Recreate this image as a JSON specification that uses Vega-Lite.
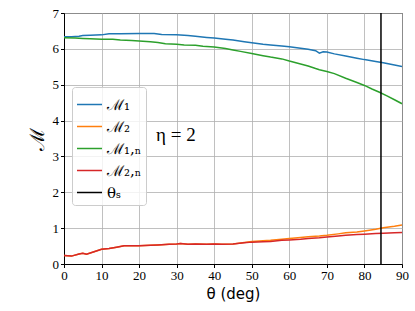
{
  "$schema": "https://vega.github.io/schema/vega-lite/v6.json",
  "width": 338,
  "height": 251,
  "autosize": {"type": "none"},
  "padding": {"left": 64, "top": 13, "right": 13, "bottom": 47},
  "background": "white",
  "config": {
    "view": {"stroke": "black", "strokeWidth": 1},
    "axis": {
      "labelFont": "Liberation Serif",
      "labelFontSize": 13,
      "labelColor": "black",
      "labelOverlap": false,
      "labelFlush": false,
      "tickColor": "black",
      "tickSize": 3.5,
      "domainColor": "black",
      "gridColor": "#b0b0b0",
      "gridWidth": 0.8,
      "titleColor": "black",
      "titleFontWeight": "normal"
    }
  },
  "datasets": {
    "lines": [
      {"s": "ℳ₁", "x": 0, "y": 6.34}, {"s": "ℳ₁", "x": 2, "y": 6.34}, {"s": "ℳ₁", "x": 4, "y": 6.35}, {"s": "ℳ₁", "x": 5, "y": 6.37}, {"s": "ℳ₁", "x": 7, "y": 6.38}, {"s": "ℳ₁", "x": 10, "y": 6.39}, {"s": "ℳ₁", "x": 12, "y": 6.42}, {"s": "ℳ₁", "x": 15, "y": 6.42}, {"s": "ℳ₁", "x": 20, "y": 6.43}, {"s": "ℳ₁", "x": 24, "y": 6.43}, {"s": "ℳ₁", "x": 26, "y": 6.40}, {"s": "ℳ₁", "x": 30, "y": 6.39}, {"s": "ℳ₁", "x": 33, "y": 6.37}, {"s": "ℳ₁", "x": 35, "y": 6.35}, {"s": "ℳ₁", "x": 38, "y": 6.32}, {"s": "ℳ₁", "x": 40, "y": 6.30}, {"s": "ℳ₁", "x": 43, "y": 6.27}, {"s": "ℳ₁", "x": 45, "y": 6.25}, {"s": "ℳ₁", "x": 48, "y": 6.20}, {"s": "ℳ₁", "x": 50, "y": 6.17}, {"s": "ℳ₁", "x": 53, "y": 6.13}, {"s": "ℳ₁", "x": 55, "y": 6.11}, {"s": "ℳ₁", "x": 58, "y": 6.08}, {"s": "ℳ₁", "x": 60, "y": 6.06}, {"s": "ℳ₁", "x": 63, "y": 6.02}, {"s": "ℳ₁", "x": 65, "y": 5.99}, {"s": "ℳ₁", "x": 67, "y": 5.95}, {"s": "ℳ₁", "x": 68, "y": 5.88}, {"s": "ℳ₁", "x": 69, "y": 5.92}, {"s": "ℳ₁", "x": 70, "y": 5.91}, {"s": "ℳ₁", "x": 72, "y": 5.86}, {"s": "ℳ₁", "x": 75, "y": 5.80}, {"s": "ℳ₁", "x": 78, "y": 5.74}, {"s": "ℳ₁", "x": 80, "y": 5.70}, {"s": "ℳ₁", "x": 83, "y": 5.65}, {"s": "ℳ₁", "x": 85, "y": 5.61}, {"s": "ℳ₁", "x": 88, "y": 5.55}, {"s": "ℳ₁", "x": 90, "y": 5.51},
      {"s": "ℳ₂", "x": 0, "y": 0.24}, {"s": "ℳ₂", "x": 2, "y": 0.22}, {"s": "ℳ₂", "x": 4, "y": 0.28}, {"s": "ℳ₂", "x": 5, "y": 0.30}, {"s": "ℳ₂", "x": 6, "y": 0.27}, {"s": "ℳ₂", "x": 8, "y": 0.34}, {"s": "ℳ₂", "x": 10, "y": 0.41}, {"s": "ℳ₂", "x": 12, "y": 0.43}, {"s": "ℳ₂", "x": 14, "y": 0.47}, {"s": "ℳ₂", "x": 16, "y": 0.51}, {"s": "ℳ₂", "x": 18, "y": 0.51}, {"s": "ℳ₂", "x": 20, "y": 0.51}, {"s": "ℳ₂", "x": 23, "y": 0.52}, {"s": "ℳ₂", "x": 25, "y": 0.53}, {"s": "ℳ₂", "x": 28, "y": 0.55}, {"s": "ℳ₂", "x": 30, "y": 0.56}, {"s": "ℳ₂", "x": 31, "y": 0.57}, {"s": "ℳ₂", "x": 33, "y": 0.55}, {"s": "ℳ₂", "x": 35, "y": 0.56}, {"s": "ℳ₂", "x": 38, "y": 0.55}, {"s": "ℳ₂", "x": 40, "y": 0.56}, {"s": "ℳ₂", "x": 42, "y": 0.55}, {"s": "ℳ₂", "x": 45, "y": 0.56}, {"s": "ℳ₂", "x": 48, "y": 0.60}, {"s": "ℳ₂", "x": 50, "y": 0.63}, {"s": "ℳ₂", "x": 53, "y": 0.65}, {"s": "ℳ₂", "x": 55, "y": 0.66}, {"s": "ℳ₂", "x": 58, "y": 0.69}, {"s": "ℳ₂", "x": 60, "y": 0.71}, {"s": "ℳ₂", "x": 63, "y": 0.74}, {"s": "ℳ₂", "x": 65, "y": 0.76}, {"s": "ℳ₂", "x": 68, "y": 0.78}, {"s": "ℳ₂", "x": 70, "y": 0.80}, {"s": "ℳ₂", "x": 73, "y": 0.84}, {"s": "ℳ₂", "x": 75, "y": 0.87}, {"s": "ℳ₂", "x": 78, "y": 0.89}, {"s": "ℳ₂", "x": 80, "y": 0.92}, {"s": "ℳ₂", "x": 83, "y": 0.97}, {"s": "ℳ₂", "x": 85, "y": 1.01}, {"s": "ℳ₂", "x": 88, "y": 1.05}, {"s": "ℳ₂", "x": 90, "y": 1.09},
      {"s": "ℳ₁,ₙ", "x": 0, "y": 6.31}, {"s": "ℳ₁,ₙ", "x": 3, "y": 6.30}, {"s": "ℳ₁,ₙ", "x": 5, "y": 6.29}, {"s": "ℳ₁,ₙ", "x": 7, "y": 6.28}, {"s": "ℳ₁,ₙ", "x": 10, "y": 6.27}, {"s": "ℳ₁,ₙ", "x": 13, "y": 6.27}, {"s": "ℳ₁,ₙ", "x": 15, "y": 6.25}, {"s": "ℳ₁,ₙ", "x": 18, "y": 6.23}, {"s": "ℳ₁,ₙ", "x": 20, "y": 6.22}, {"s": "ℳ₁,ₙ", "x": 23, "y": 6.20}, {"s": "ℳ₁,ₙ", "x": 25, "y": 6.18}, {"s": "ℳ₁,ₙ", "x": 27, "y": 6.14}, {"s": "ℳ₁,ₙ", "x": 30, "y": 6.13}, {"s": "ℳ₁,ₙ", "x": 32, "y": 6.11}, {"s": "ℳ₁,ₙ", "x": 35, "y": 6.10}, {"s": "ℳ₁,ₙ", "x": 37, "y": 6.07}, {"s": "ℳ₁,ₙ", "x": 40, "y": 6.05}, {"s": "ℳ₁,ₙ", "x": 43, "y": 6.01}, {"s": "ℳ₁,ₙ", "x": 45, "y": 5.97}, {"s": "ℳ₁,ₙ", "x": 47, "y": 5.93}, {"s": "ℳ₁,ₙ", "x": 50, "y": 5.87}, {"s": "ℳ₁,ₙ", "x": 53, "y": 5.81}, {"s": "ℳ₁,ₙ", "x": 55, "y": 5.77}, {"s": "ℳ₁,ₙ", "x": 58, "y": 5.72}, {"s": "ℳ₁,ₙ", "x": 60, "y": 5.66}, {"s": "ℳ₁,ₙ", "x": 63, "y": 5.58}, {"s": "ℳ₁,ₙ", "x": 65, "y": 5.52}, {"s": "ℳ₁,ₙ", "x": 67, "y": 5.45}, {"s": "ℳ₁,ₙ", "x": 68, "y": 5.42}, {"s": "ℳ₁,ₙ", "x": 70, "y": 5.37}, {"s": "ℳ₁,ₙ", "x": 72, "y": 5.31}, {"s": "ℳ₁,ₙ", "x": 75, "y": 5.18}, {"s": "ℳ₁,ₙ", "x": 78, "y": 5.06}, {"s": "ℳ₁,ₙ", "x": 80, "y": 4.98}, {"s": "ℳ₁,ₙ", "x": 82, "y": 4.88}, {"s": "ℳ₁,ₙ", "x": 84, "y": 4.79}, {"s": "ℳ₁,ₙ", "x": 86, "y": 4.69}, {"s": "ℳ₁,ₙ", "x": 88, "y": 4.58}, {"s": "ℳ₁,ₙ", "x": 90, "y": 4.47},
      {"s": "ℳ₂,ₙ", "x": 0, "y": 0.24}, {"s": "ℳ₂,ₙ", "x": 2, "y": 0.22}, {"s": "ℳ₂,ₙ", "x": 4, "y": 0.28}, {"s": "ℳ₂,ₙ", "x": 5, "y": 0.30}, {"s": "ℳ₂,ₙ", "x": 6, "y": 0.27}, {"s": "ℳ₂,ₙ", "x": 8, "y": 0.34}, {"s": "ℳ₂,ₙ", "x": 10, "y": 0.41}, {"s": "ℳ₂,ₙ", "x": 12, "y": 0.43}, {"s": "ℳ₂,ₙ", "x": 14, "y": 0.47}, {"s": "ℳ₂,ₙ", "x": 16, "y": 0.51}, {"s": "ℳ₂,ₙ", "x": 18, "y": 0.51}, {"s": "ℳ₂,ₙ", "x": 20, "y": 0.51}, {"s": "ℳ₂,ₙ", "x": 23, "y": 0.52}, {"s": "ℳ₂,ₙ", "x": 25, "y": 0.53}, {"s": "ℳ₂,ₙ", "x": 28, "y": 0.55}, {"s": "ℳ₂,ₙ", "x": 30, "y": 0.56}, {"s": "ℳ₂,ₙ", "x": 31, "y": 0.57}, {"s": "ℳ₂,ₙ", "x": 33, "y": 0.55}, {"s": "ℳ₂,ₙ", "x": 35, "y": 0.56}, {"s": "ℳ₂,ₙ", "x": 38, "y": 0.55}, {"s": "ℳ₂,ₙ", "x": 40, "y": 0.56}, {"s": "ℳ₂,ₙ", "x": 42, "y": 0.55}, {"s": "ℳ₂,ₙ", "x": 45, "y": 0.56}, {"s": "ℳ₂,ₙ", "x": 48, "y": 0.59}, {"s": "ℳ₂,ₙ", "x": 50, "y": 0.61}, {"s": "ℳ₂,ₙ", "x": 53, "y": 0.62}, {"s": "ℳ₂,ₙ", "x": 55, "y": 0.63}, {"s": "ℳ₂,ₙ", "x": 58, "y": 0.66}, {"s": "ℳ₂,ₙ", "x": 60, "y": 0.67}, {"s": "ℳ₂,ₙ", "x": 63, "y": 0.69}, {"s": "ℳ₂,ₙ", "x": 65, "y": 0.71}, {"s": "ℳ₂,ₙ", "x": 68, "y": 0.73}, {"s": "ℳ₂,ₙ", "x": 70, "y": 0.75}, {"s": "ℳ₂,ₙ", "x": 73, "y": 0.78}, {"s": "ℳ₂,ₙ", "x": 75, "y": 0.80}, {"s": "ℳ₂,ₙ", "x": 78, "y": 0.82}, {"s": "ℳ₂,ₙ", "x": 80, "y": 0.83}, {"s": "ℳ₂,ₙ", "x": 83, "y": 0.85}, {"s": "ℳ₂,ₙ", "x": 85, "y": 0.86}, {"s": "ℳ₂,ₙ", "x": 88, "y": 0.87}, {"s": "ℳ₂,ₙ", "x": 90, "y": 0.88},
      {"s": "θₛ", "x": 84.4, "y": 0}, {"s": "θₛ", "x": 84.4, "y": 7}
    ],
    "note": [{"x": 24.5, "y": 3.6, "t": "η = 2"}]
  },
  "encoding": {
    "x": {
      "field": "x", "type": "quantitative",
      "scale": {"domain": [0, 90], "nice": false, "zero": false},
      "axis": {"values": [0, 10, 20, 30, 40, 50, 60, 70, 80, 90], "tickCount": 10, "title": "θ (deg)", "titleFont": "DejaVu Sans", "titleFontSize": 15, "titlePadding": 4}
    },
    "y": {
      "field": "y", "type": "quantitative",
      "scale": {"domain": [0, 7], "nice": false},
      "axis": {"values": [0, 1, 2, 3, 4, 5, 6, 7], "tickCount": 8, "title": "ℳ", "titleFont": "DejaVu Serif", "titleFontSize": 20, "titlePadding": 5}
    }
  },
  "layer": [
    {
      "data": {"name": "lines"},
      "mark": {"type": "line", "strokeWidth": 1.5, "clip": true},
      "encoding": {
        "color": {
          "field": "s", "type": "nominal",
          "scale": {
            "domain": ["ℳ₁", "ℳ₂", "ℳ₁,ₙ", "ℳ₂,ₙ", "θₛ"],
            "range": ["#1f77b4", "#ff7f0e", "#2ca02c", "#d62728", "#000000"]
          },
          "legend": {
            "title": null,
            "orient": "none",
            "legendX": 8,
            "legendY": 74,
            "symbolType": "stroke",
            "symbolSize": 625,
            "symbolStrokeWidth": 1.5,
            "labelFont": "DejaVu Serif",
            "labelFontSize": 15,
            "labelColor": "black",
            "rowPadding": -12,
            "padding": 4,
            "fillColor": "rgba(255,255,255,0.8)",
            "strokeColor": "#cccccc",
            "cornerRadius": 3
          }
        },
        "order": {"field": "x", "type": "quantitative"}
      }
    },
    {
      "data": {"name": "note"},
      "mark": {"type": "text", "align": "left", "baseline": "middle", "font": "Liberation Serif", "fontSize": 19, "color": "black"},
      "encoding": {
        "text": {"field": "t"}
      }
    }
  ]
}
